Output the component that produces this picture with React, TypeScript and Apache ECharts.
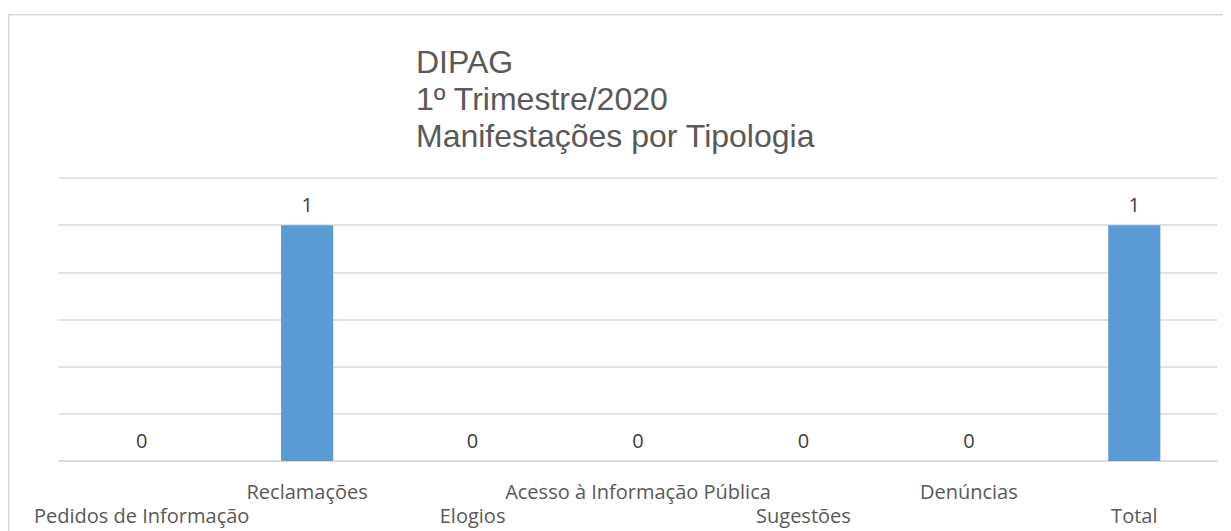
import React, { useEffect, useRef } from "react";
import * as echarts from "echarts";

const categories = [
  "Pedidos de Informação",
  "Reclamações",
  "Elogios",
  "Acesso à Informação Pública",
  "Sugestões",
  "Denúncias",
  "Total",
];
const values = [0, 1, 0, 0, 0, 0, 1];
const titleLines = ["DIPAG", "1º Trimestre/2020", "Manifestações por Tipologia"];

const FONT = "'Open Sans', Lato, sans-serif";
const TITLE_FONT = "'Liberation Sans', Arial, sans-serif";

export default function App() {
  const ref = useRef<HTMLDivElement>(null);
  useEffect(() => {
    if (!ref.current) return;
    const chart = echarts.init(ref.current, undefined, { renderer: "svg" });
    chart.setOption({
      animation: false,
      backgroundColor: "#ffffff",
      textStyle: { fontFamily: FONT },
      graphic: [
        {
          type: "rect",
          shape: { x: 0.75, y: 6.75, width: 1300, height: 600 },
          style: { fill: "none", stroke: "#d9d9d9", lineWidth: 1.5 },
          silent: true,
        },
      ],
      title: titleLines.map((t, i) => ({
        text: t,
        left: 408,
        top: 37 + i * 37,
        padding: 0,
        textStyle: {
          fontFamily: TITLE_FONT,
          fontSize: 32,
          fontWeight: "normal",
          color: "#595959",
          lineHeight: 34,
        },
      })),
      grid: { left: 51, right: 14, top: 170, bottom: 70 },
      xAxis: {
        type: "category",
        data: categories,
        axisLine: { show: true, lineStyle: { color: "#d9d9d9", width: 1.5 } },
        axisTick: { show: false },
        axisLabel: {
          interval: 0,
          color: "#595959",
          fontSize: 20,
          fontFamily: FONT,
          margin: 18,
          lineHeight: 24,
          formatter: (v: string, i: number) => (i % 2 === 0 ? "\n" + v : v),
        },
      },
      yAxis: {
        type: "value",
        min: 0,
        max: 1.2,
        interval: 0.2,
        axisLabel: { show: false },
        axisLine: { show: false },
        axisTick: { show: false },
        splitLine: { lineStyle: { color: "#d9d9d9", width: 1.5 } },
      },
      series: [
        {
          type: "bar",
          data: values,
          barWidth: "31.5%",
          itemStyle: { color: "#5b9bd5" },
          label: {
            show: true,
            position: "top",
            distance: 11,
            color: "#404040",
            fontSize: 20,
            fontFamily: FONT,
          },
        },
      ],
    });
    return () => chart.dispose();
  }, []);
  return <div ref={ref} style={{ width: 1223, height: 523 }} />;
}
